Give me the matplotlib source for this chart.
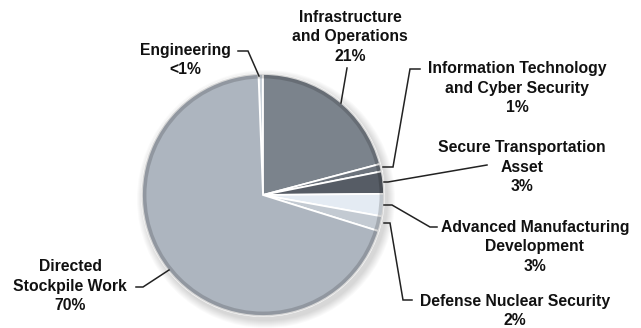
import matplotlib.pyplot as plt
from matplotlib.patches import Circle

# slices clockwise from the top
labels = ['Engineering\n<1%', 'Infrastructure\nand Operations\n21%',
          'Information Technology\nand Cyber Security\n1%',
          'Secure Transportation\nAsset\n3%',
          'Advanced Manufacturing\nDevelopment\n3%',
          'Defense Nuclear Security\n2%',
          'Directed\nStockpile Work\n70%']
shares = [0.6, 21, 1, 3, 3, 2, 70]
colors = ['#c9d1d9', '#7b838c', '#6d747d', '#565c65', '#e4ebf3', '#c3cad2', '#adb5bf']

W, H = 641, 328
cx, cy, R = 263, H - 195, 121

fig = plt.figure(figsize=(W / 100, H / 100), dpi=100)
ax = fig.add_axes([0, 0, 1, 1])
ax.set_xlim(0, W)
ax.set_ylim(0, H)
ax.set_aspect('equal')
ax.axis('off')

# soft shadow
for k in range(8):
    ax.add_patch(Circle((cx + 3, cy - 4), R + 1 + k, color='black', alpha=0.018, lw=0, zorder=0))

total = sum(shares)
wedges, _ = ax.pie(shares, colors=colors, center=(cx, cy), radius=R, counterclock=False,
                   startangle=90 + 360 * shares[0] / total,
                   wedgeprops=dict(edgecolor='white', linewidth=1.3))
for w in wedges:
    w.set_zorder(2)
ax.set_xlim(0, W)
ax.set_ylim(0, H)

# darker rim
ax.add_patch(Circle((cx, cy), R - 2, fill=False, edgecolor='black', alpha=0.16, lw=3.5, zorder=3))

font = dict(family=['Liberation Sans', 'DejaVu Sans'], fontweight='bold', fontsize=11.3,
            ha='center', va='center', linespacing=1.36, color='#111111')

# text centres (pixels) and leader lines (pixels)
label_pos = [(185, 60), (350, 37), (517, 88), (522, 167), (535, 247), (515, 311), (70, 286)]
leaders = [
    [(238, 51), (248, 51), (259, 76)],
    [(347, 68), (341, 103)],
    [(420, 69), (410, 69), (393, 167), (383, 167)],
    [(487, 165), (388, 182), (384, 182)],
    [(384, 205), (392, 205), (430, 227), (437, 227)],
    [(384, 223), (390, 223), (403, 300), (412, 300)],
    [(136, 287), (143, 287), (169, 270)],
]

for lab, (x, y) in zip(labels, label_pos):
    ax.text(x, H - y, lab, **font)
for pts in leaders:
    ax.plot([p[0] for p in pts], [H - p[1] for p in pts], color='#222222', lw=1.1, zorder=5,
            solid_joinstyle='miter')

fig.savefig('out.png', dpi=100)
